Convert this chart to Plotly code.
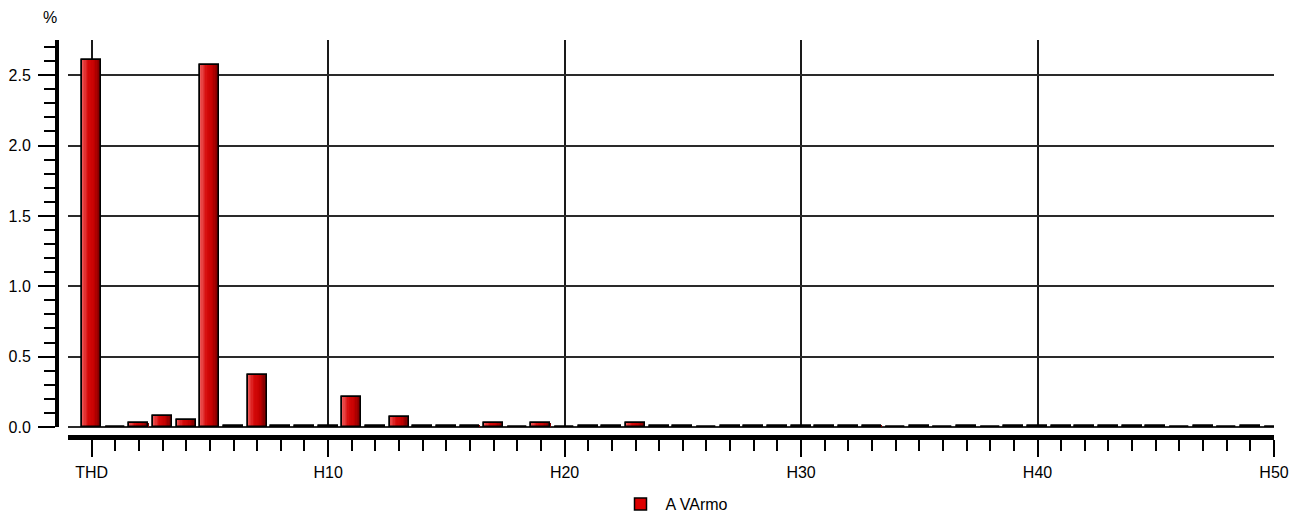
import plotly.graph_objects as go

# Harmonic spectrum: THD followed by harmonics H1..H50 (percent)
categories = ["THD"] + [f"H{i}" for i in range(1, 51)]
values = [
    2.61, 0.0, 0.03, 0.08, 0.05, 2.57, 0.01, 0.37, 0.01, 0.01,
    0.01, 0.21, 0.01, 0.07, 0.01, 0.01, 0.01, 0.03, 0.0, 0.03,
    0.0, 0.01, 0.01, 0.03, 0.01, 0.01, 0.0, 0.01, 0.01, 0.01,
    0.01, 0.01, 0.01, 0.01, 0.0, 0.01, 0.0, 0.01, 0.0, 0.01,
    0.01, 0.01, 0.01, 0.01, 0.01, 0.01, 0.0, 0.01, 0.0, 0.01,
    0.0,
]
series_name = "A VArmo"
x_labels = ["THD", "H10", "H20", "H30", "H40", "H50"]
x_label_pos = [0, 10, 20, 30, 40, 50]
y_ticks = [0.0, 0.5, 1.0, 1.5, 2.0, 2.5]

W, H = 1307, 521
FONT = "Liberation Sans, Arial, sans-serif"
FS = 16
BAR_W = 0.8
x = list(range(len(categories)))

fig = go.Figure()

# base layer: solid red bars that also provide the legend swatch
fig.add_trace(go.Bar(
    x=x, y=values, width=BAR_W, name=series_name,
    marker=dict(color="#dd0000", line=dict(color="#000000", width=1.5)),
    hovertext=categories,
))

# shaded overlay: thin vertical strips giving each bar a light-to-dark sheen
stops = [(236, 84, 84), (214, 10, 10), (196, 0, 0), (118, 0, 0)]


def lerp_color(t):
    seg = min(int(t * (len(stops) - 1)), len(stops) - 2)
    local = t * (len(stops) - 1) - seg
    a, b = stops[seg], stops[seg + 1]
    return "rgb(%d,%d,%d)" % tuple(round(a[k] + (b[k] - a[k]) * local) for k in range(3))


n_strips = 14
strip_w = BAR_W / n_strips
for k in range(n_strips):
    fig.add_trace(go.Bar(
        x=x, y=values, width=strip_w * 1.08,
        offset=-BAR_W / 2 + k * strip_w,
        marker=dict(color=lerp_color(k / (n_strips - 1)), line=dict(width=0)),
        showlegend=False, hoverinfo="skip",
    ))

# outline on top
fig.add_trace(go.Bar(
    x=x, y=values, width=BAR_W,
    marker=dict(color="rgba(0,0,0,0)", line=dict(color="#000000", width=1.5)),
    showlegend=False, hoverinfo="skip",
))

x0, x1 = 68 / W, 1274 / W
y0, y1 = (H - 427) / H, (H - 40) / H

fig.update_layout(
    width=W, height=H,
    margin=dict(l=0, r=0, t=0, b=0),
    paper_bgcolor="white", plot_bgcolor="white",
    barmode="overlay", bargap=0,
    font=dict(family=FONT, size=FS, color="#000000"),
    showlegend=True,
    legend=dict(
        orientation="h", x=0.5 + 21 / W, xanchor="center",
        y=0, yanchor="bottom",
        font=dict(size=FS), itemwidth=40,
    ),
    xaxis=dict(
        domain=[x0, x1], range=[-1, 50], anchor="free", position=(H - 437) / H,
        tickmode="array", tickvals=x_label_pos, ticktext=x_labels,
        ticks="outside", ticklen=17, tickwidth=2, tickcolor="#000000",
        ticklabelstandoff=2,
        minor=dict(tickmode="array", tickvals=x, ticks="outside", ticklen=11,
                   tickwidth=2, tickcolor="#000000", showgrid=False),
        showline=True, linewidth=5, linecolor="#000000",
        showgrid=True, gridcolor="#1a1a1a", gridwidth=1.5,
        zeroline=False, automargin=False, fixedrange=True,
    ),
    yaxis=dict(
        domain=[y0, y1], range=[0, 2.75], anchor="free", position=57 / W,
        tickmode="array", tickvals=y_ticks, ticktext=[f"{v:.1f}" for v in y_ticks],
        ticks="outside", ticklen=17, tickwidth=2, tickcolor="#000000",
        ticklabelstandoff=4,
        minor=dict(dtick=0.1, tick0=0, ticks="outside", ticklen=11,
                   tickwidth=2, tickcolor="#000000", showgrid=False),
        showline=True, linewidth=4, linecolor="#000000",
        showgrid=True, gridcolor="#2a2a2a", gridwidth=1.5,
        zeroline=True, zerolinecolor="#2a2a2a", zerolinewidth=1.5,
        automargin=False, fixedrange=True,
    ),
    annotations=[dict(
        text="%", xref="paper", yref="paper", x=50 / W, y=(H - 17) / H,
        xanchor="center", yanchor="middle", showarrow=False,
        font=dict(family=FONT, size=FS, color="#000000"),
    )],
)

fig.write_html("out.html")
